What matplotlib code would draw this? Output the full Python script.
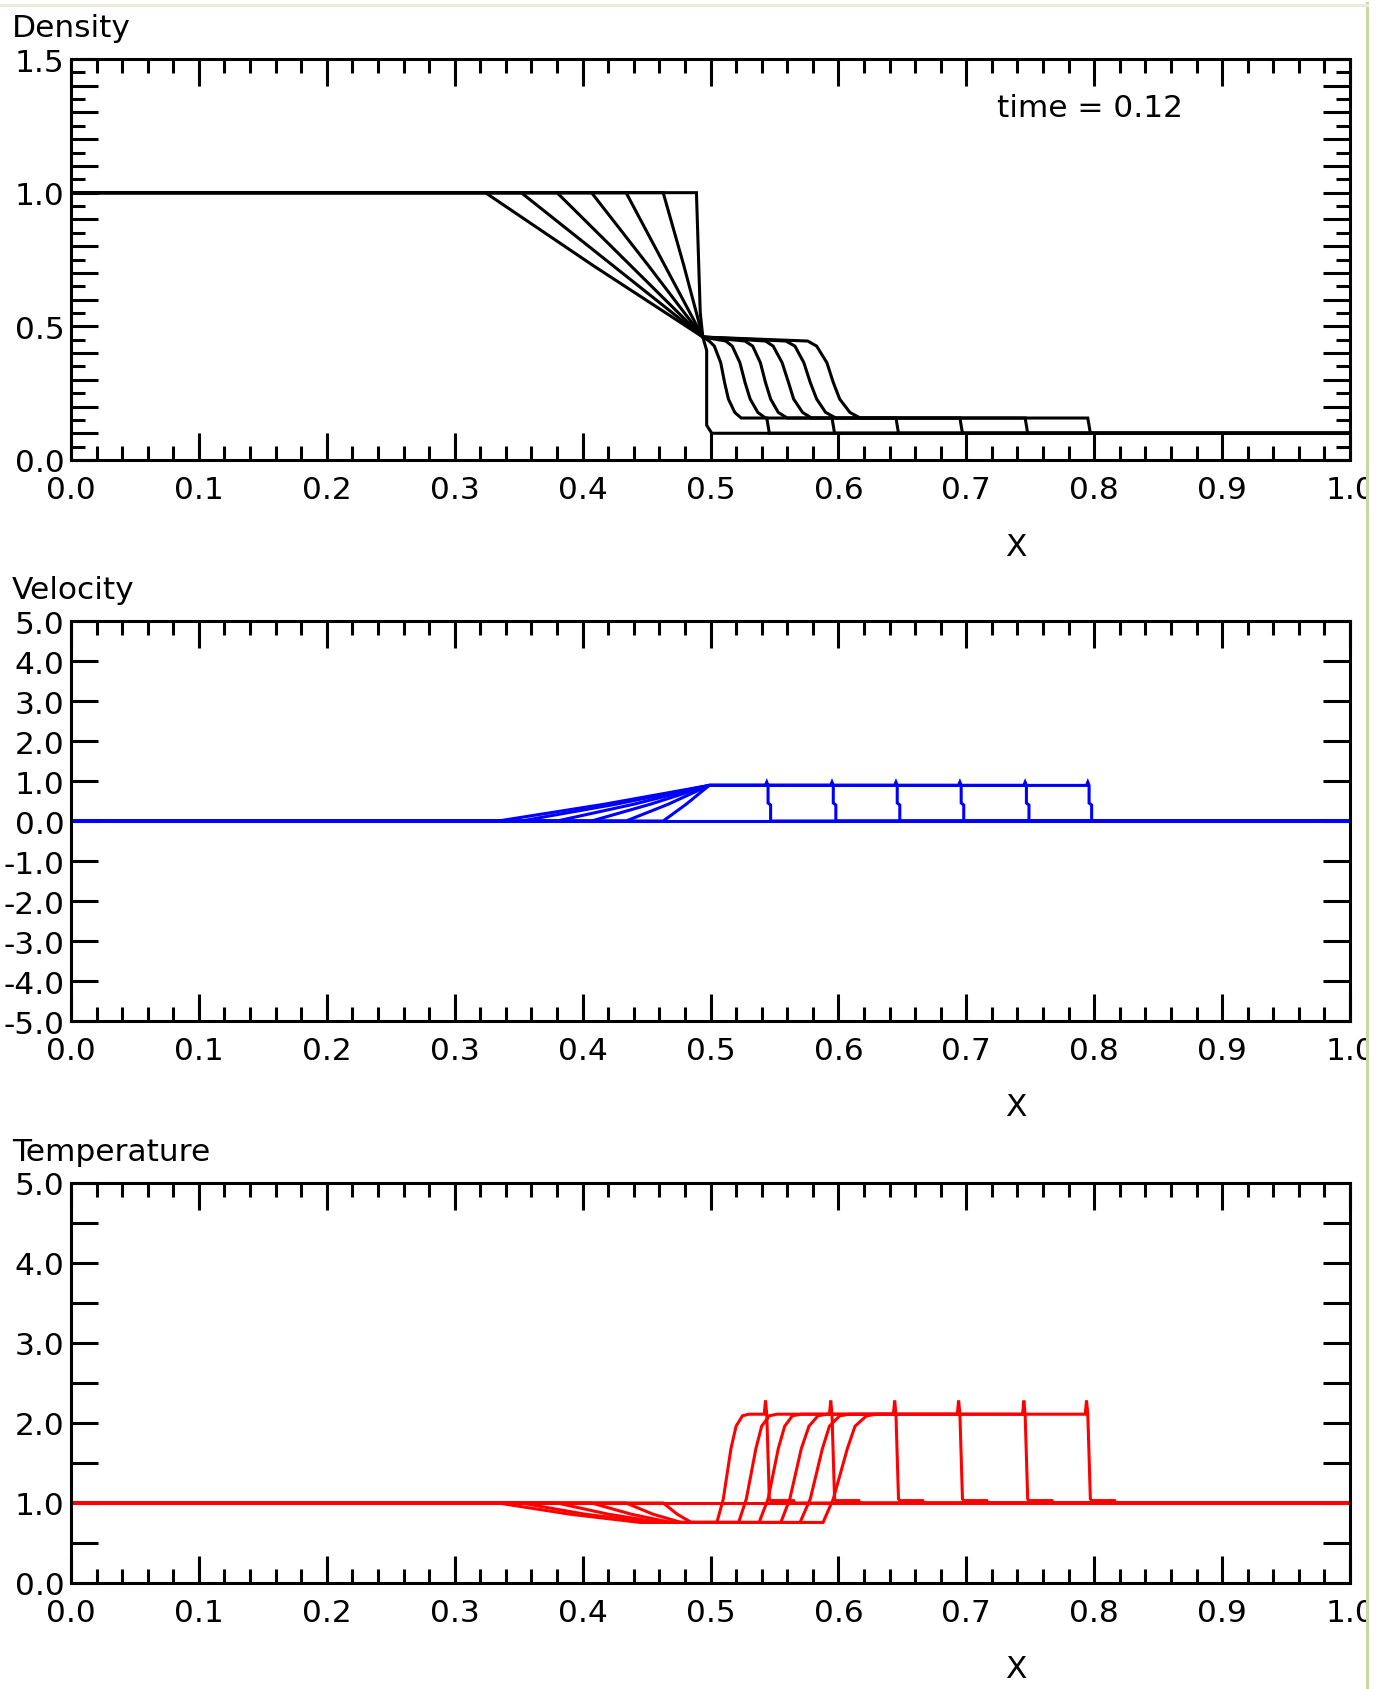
import matplotlib
matplotlib.use("Agg")
import matplotlib.pyplot as plt
from matplotlib.ticker import MultipleLocator, FuncFormatter, FormatStrFormatter
from matplotlib.lines import Line2D
from matplotlib.patches import Rectangle

plt.rcParams['font.family'] = ['DejaVu Sans']
plt.rcParams['axes.unicode_minus'] = False

# ---------------- text ----------------
panel_titles = ["Density", "Velocity", "Temperature"]
time_label = "time = 0.12"
x_label = "X"

# ---------------- data (snapshots t = 0, 0.02, ..., 0.12) ----------------
# Density
rho_x_0 = [0.0, 0.489, 0.492, 0.494, 0.497, 0.497, 0.501, 1.0]
rho_y_0 = [1.0, 1.0, 0.55, 0.46, 0.41, 0.13, 0.10, 0.10]
rho_x_1 = [0.0, 0.463, 0.479, 0.494, 0.499, 0.503, 0.508, 0.511, 0.514, 0.519, 0.524, 0.544, 0.546, 1.0]
rho_y_1 = [1.0, 1.0, 0.73, 0.46, 0.445, 0.426, 0.364, 0.29, 0.228, 0.178, 0.157, 0.157, 0.10, 0.10]
rho_x_2 = [0.0, 0.434, 0.464, 0.494, 0.512, 0.517, 0.523, 0.527, 0.531, 0.537, 0.543, 0.595, 0.597, 1.0]
rho_y_2 = [1.0, 1.0, 0.73, 0.46, 0.445, 0.426, 0.364, 0.29, 0.228, 0.178, 0.157, 0.157, 0.10, 0.10]
rho_x_3 = [0.0, 0.407, 0.451, 0.494, 0.527, 0.533, 0.539, 0.543, 0.547, 0.553, 0.560, 0.645, 0.647, 1.0]
rho_y_3 = [1.0, 1.0, 0.73, 0.46, 0.445, 0.426, 0.364, 0.29, 0.228, 0.178, 0.157, 0.157, 0.10, 0.10]
rho_x_4 = [0.0, 0.380, 0.437, 0.494, 0.543, 0.549, 0.556, 0.561, 0.565, 0.572, 0.579, 0.695, 0.697, 1.0]
rho_y_4 = [1.0, 1.0, 0.73, 0.46, 0.445, 0.426, 0.364, 0.29, 0.228, 0.178, 0.157, 0.157, 0.10, 0.10]
rho_x_5 = [0.0, 0.352, 0.423, 0.494, 0.559, 0.566, 0.573, 0.578, 0.583, 0.590, 0.598, 0.746, 0.748, 1.0]
rho_y_5 = [1.0, 1.0, 0.73, 0.46, 0.445, 0.426, 0.364, 0.29, 0.228, 0.178, 0.157, 0.157, 0.10, 0.10]
rho_x_6 = [0.0, 0.324, 0.409, 0.494, 0.576, 0.583, 0.591, 0.596, 0.601, 0.609, 0.617, 0.795, 0.797, 1.0]
rho_y_6 = [1.0, 1.0, 0.725, 0.46, 0.445, 0.426, 0.364, 0.29, 0.228, 0.178, 0.157, 0.157, 0.10, 0.10]

# Velocity
vel_x_0 = [0.0, 1.0]
vel_y_0 = [0.0, 0.0]
vel_x_1 = [0.0, 0.463, 0.481, 0.499, 0.543, 0.544, 0.545, 0.545, 0.547, 0.547, 1.0]
vel_y_1 = [0.0, 0.0, 0.42, 0.89, 0.89, 0.97, 0.89, 0.45, 0.40, 0.0, 0.0]
vel_x_2 = [0.0, 0.434, 0.467, 0.499, 0.594, 0.595, 0.596, 0.596, 0.598, 0.598, 1.0]
vel_y_2 = [0.0, 0.0, 0.42, 0.89, 0.89, 0.97, 0.89, 0.45, 0.40, 0.0, 0.0]
vel_x_3 = [0.0, 0.407, 0.453, 0.499, 0.644, 0.645, 0.646, 0.646, 0.648, 0.648, 1.0]
vel_y_3 = [0.0, 0.0, 0.42, 0.89, 0.89, 0.97, 0.89, 0.45, 0.40, 0.0, 0.0]
vel_x_4 = [0.0, 0.380, 0.440, 0.499, 0.694, 0.695, 0.696, 0.696, 0.698, 0.698, 1.0]
vel_y_4 = [0.0, 0.0, 0.42, 0.89, 0.89, 0.97, 0.89, 0.45, 0.40, 0.0, 0.0]
vel_x_5 = [0.0, 0.352, 0.426, 0.499, 0.745, 0.746, 0.747, 0.747, 0.749, 0.749, 1.0]
vel_y_5 = [0.0, 0.0, 0.42, 0.89, 0.89, 0.97, 0.89, 0.45, 0.40, 0.0, 0.0]
vel_x_6 = [0.0, 0.334, 0.417, 0.499, 0.794, 0.795, 0.796, 0.796, 0.798, 0.798, 1.0]
vel_y_6 = [0.0, 0.0, 0.42, 0.89, 0.89, 0.97, 0.89, 0.45, 0.40, 0.0, 0.0]

# Temperature
tmp_x_0 = [0.0, 1.0]
tmp_y_0 = [1.0, 1.0]
tmp_x_1 = [0.0, 0.463, 0.474, 0.485, 0.505, 0.510, 0.516, 0.520, 0.525, 0.530, 0.542, 0.543, 0.544, 0.546, 0.547, 0.565, 0.566, 1.0]
tmp_y_1 = [1.0, 1.0, 0.86, 0.757, 0.757, 1.05, 1.68, 1.96, 2.09, 2.11, 2.11, 2.28, 2.11, 1.05, 1.03, 1.03, 1.0, 1.0]
tmp_x_2 = [0.0, 0.434, 0.455, 0.477, 0.522, 0.528, 0.5355, 0.540, 0.546, 0.552, 0.593, 0.594, 0.595, 0.597, 0.598, 0.616, 0.617, 1.0]
tmp_y_2 = [1.0, 1.0, 0.86, 0.757, 0.757, 1.05, 1.68, 1.96, 2.09, 2.11, 2.11, 2.28, 2.11, 1.05, 1.03, 1.03, 1.0, 1.0]
tmp_x_3 = [0.0, 0.407, 0.438, 0.469, 0.538, 0.545, 0.553, 0.558, 0.564, 0.571, 0.643, 0.644, 0.645, 0.647, 0.648, 0.666, 0.667, 1.0]
tmp_y_3 = [1.0, 1.0, 0.86, 0.757, 0.757, 1.05, 1.68, 1.96, 2.09, 2.11, 2.11, 2.28, 2.11, 1.05, 1.03, 1.03, 1.0, 1.0]
tmp_x_4 = [0.0, 0.380, 0.420, 0.461, 0.555, 0.562, 0.571, 0.577, 0.584, 0.591, 0.693, 0.694, 0.695, 0.697, 0.698, 0.716, 0.717, 1.0]
tmp_y_4 = [1.0, 1.0, 0.86, 0.757, 0.757, 1.05, 1.68, 1.96, 2.09, 2.11, 2.11, 2.28, 2.11, 1.05, 1.03, 1.03, 1.0, 1.0]
tmp_x_5 = [0.0, 0.352, 0.402, 0.453, 0.570, 0.578, 0.5875, 0.593, 0.601, 0.609, 0.744, 0.745, 0.746, 0.748, 0.749, 0.767, 0.768, 1.0]
tmp_y_5 = [1.0, 1.0, 0.86, 0.757, 0.757, 1.05, 1.68, 1.96, 2.09, 2.11, 2.11, 2.28, 2.11, 1.05, 1.03, 1.03, 1.0, 1.0]
tmp_x_6 = [0.0, 0.334, 0.390, 0.445, 0.588, 0.596, 0.607, 0.613, 0.622, 0.630, 0.793, 0.794, 0.795, 0.797, 0.798, 0.816, 0.817, 1.0]
tmp_y_6 = [1.0, 1.0, 0.86, 0.757, 0.757, 1.05, 1.68, 1.96, 2.09, 2.11, 2.11, 2.28, 2.11, 1.05, 1.03, 1.03, 1.0, 1.0]

rho_snaps = [(rho_x_0, rho_y_0), (rho_x_1, rho_y_1), (rho_x_2, rho_y_2), (rho_x_3, rho_y_3),
             (rho_x_4, rho_y_4), (rho_x_5, rho_y_5), (rho_x_6, rho_y_6)]
vel_snaps = [(vel_x_0, vel_y_0), (vel_x_1, vel_y_1), (vel_x_2, vel_y_2), (vel_x_3, vel_y_3),
             (vel_x_4, vel_y_4), (vel_x_5, vel_y_5), (vel_x_6, vel_y_6)]
tmp_snaps = [(tmp_x_0, tmp_y_0), (tmp_x_1, tmp_y_1), (tmp_x_2, tmp_y_2), (tmp_x_3, tmp_y_3),
             (tmp_x_4, tmp_y_4), (tmp_x_5, tmp_y_5), (tmp_x_6, tmp_y_6)]

# ---------------- figure ----------------
W, H = 1381, 1690
DPI = 100
fig = plt.figure(figsize=(W / DPI, H / DPI), dpi=DPI, facecolor='white')

FS = 22.5
LW = 2.2
MAJ_LEN, MIN_LEN = 19.5, 10.0

left = 71 / W
width = 1279 / W
panels = [
    dict(bottom=(H - 461) / H, height=401 / H, ylim=(0.0, 1.5), snaps=rho_snaps, color='black',
         ymajor=0.1, yminor=0.05, ylabel_step=0.5),
    dict(bottom=(H - 1022) / H, height=400 / H, ylim=(-5.0, 5.0), snaps=vel_snaps, color='#0000FF',
         ymajor=1.0, yminor=None, ylabel_step=1.0),
    dict(bottom=(H - 1584) / H, height=400 / H, ylim=(0.0, 5.0), snaps=tmp_snaps, color='#FF0000',
         ymajor=0.5, yminor=None, ylabel_step=1.0),
]

axes = []
for i, p in enumerate(panels):
    ax = fig.add_axes([left, p['bottom'], width, p['height']])
    axes.append(ax)
    for xs, ys in p['snaps']:
        ax.plot(xs, ys, color=p['color'], lw=LW, solid_joinstyle='miter', solid_capstyle='butt')
    ax.set_xlim(0.0, 1.0)
    ax.set_ylim(*p['ylim'])
    for s in ax.spines.values():
        s.set_linewidth(LW)
        s.set_color('black')
    ax.xaxis.set_major_locator(MultipleLocator(0.1))
    ax.xaxis.set_minor_locator(MultipleLocator(0.02))
    ax.xaxis.set_major_formatter(FormatStrFormatter('%.1f'))
    ax.yaxis.set_major_locator(MultipleLocator(p['ymajor']))
    if p['yminor']:
        ax.yaxis.set_minor_locator(MultipleLocator(p['yminor']))
    step = p['ylabel_step']

    def fmt(v, pos, step=step):
        r = v / step
        if abs(r - round(r)) < 1e-6:
            return f"{v:.1f}"
        return ""
    ax.yaxis.set_major_formatter(FuncFormatter(fmt))
    ax.tick_params(which='both', direction='in', top=True, right=True, width=LW, colors='black')
    ax.tick_params(which='major', length=MAJ_LEN)
    ax.tick_params(which='minor', length=MIN_LEN)
    ax.tick_params(axis='x', which='major', labelsize=FS, pad=10.5)
    ax.tick_params(axis='y', which='major', labelsize=FS, pad=4.5)
    ax.text(-0.046, 1.0575, panel_titles[i], transform=ax.transAxes, ha='left', va='baseline',
            fontsize=FS)
    ax.set_xlabel(x_label, fontsize=FS)
    ax.xaxis.set_label_coords(0.739, -0.215)
    ax.xaxis.label.set_verticalalignment('center')

axes[0].text(0.724, 0.8575, time_label, transform=axes[0].transAxes, ha='left', va='baseline',
             fontsize=FS)

# window frame decorations (right border and top strip)
fig.add_artist(Rectangle((1368 / W, 0), (W - 1368) / W, 1, transform=fig.transFigure,
                         facecolor='white', edgecolor='none', zorder=10))
fig.add_artist(Line2D([1366.5 / W, 1366.5 / W], [0, 1 - 4 / H], transform=fig.transFigure,
                      color='#C8D9A0', lw=2.2, zorder=11))
fig.add_artist(Line2D([0, 1367 / W], [1 - 5.5 / H, 1 - 5.5 / H], transform=fig.transFigure,
                      color='#ECE9D8', lw=2.2, zorder=11))

fig.savefig('out.png', dpi=DPI, facecolor='white')
